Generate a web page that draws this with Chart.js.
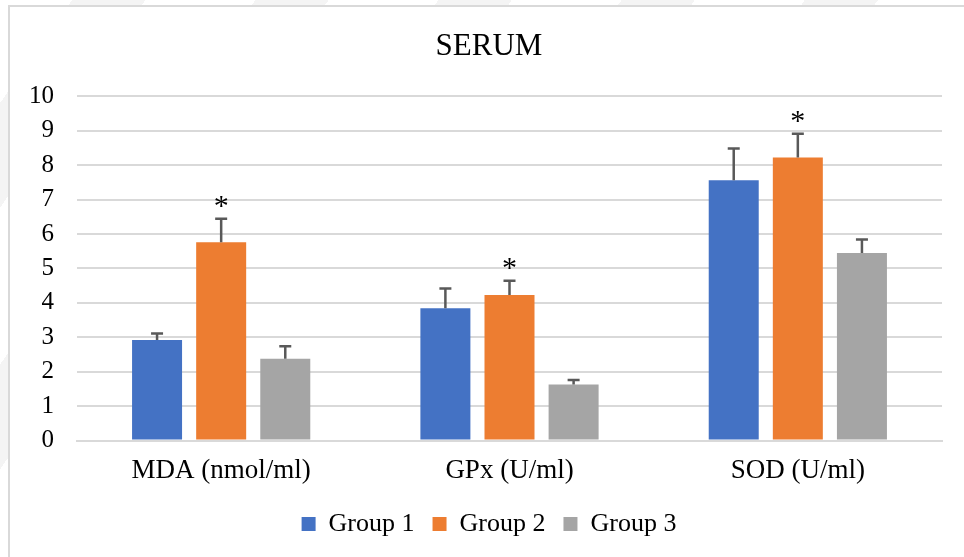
<!DOCTYPE html>
<html>
<head>
<meta charset="utf-8">
<script src="https://cdn.jsdelivr.net/npm/chart.js@4.4.1/dist/chart.umd.min.js"></script>
<style>
  html, body { margin: 0; padding: 0; }
  body {
    width: 964px; height: 557px; overflow: hidden; position: relative;
    background: repeating-linear-gradient(-55deg, #ffffff 0px, #ffffff 90px, #f4f4f4 90px, #f4f4f4 150px);
  }
  #frame {
    position: absolute; left: 8px; top: 5px; width: 1000px; height: 600px;
    border: 2px solid #d9d9d9; background: #fff;
  }
  #wrap { position: absolute; left: 0; top: 0; width: 972px; height: 557px; }
</style>
</head>
<body>
<div id="frame"></div>
<div id="wrap"><canvas id="serumChart"></canvas></div>
<script>
// ---- data ----
const categories = ['MDA (nmol/ml)', 'GPx (U/ml)', 'SOD (U/ml)']
const groupNames = ['Group 1', 'Group 2', 'Group 3']
const group1 = [2.92, 3.84, 7.56]
const group2 = [5.76, 4.23, 8.22]
const group3 = [2.38, 1.63, 5.45]
const err1 = [0.19, 0.58, 0.92]
const err2 = [0.68, 0.41, 0.69]
const err3 = [0.36, 0.13, 0.39]
const marks2 = ['*', '*', '*']   // significance marks over Group 2
const yTicks = [0, 1, 2, 3, 4, 5, 6, 7, 8, 9, 10]

const colors = ['#4472C4', '#ED7D31', '#A5A5A5']
const serif = "'Liberation Serif', 'Times New Roman', serif"

// error bars (upper only) + asterisks
const errorBars = {
  id: 'errorBars',
  afterDatasetsDraw(chart) {
    const ctx = chart.ctx
    const y = chart.scales.y
    chart.data.datasets.forEach((ds, i) => {
      const meta = chart.getDatasetMeta(i)
      meta.data.forEach((bar, j) => {
        const top = y.getPixelForValue(ds.data[j] + ds.errors[j])
        ctx.save()
        ctx.strokeStyle = '#595959'
        ctx.lineWidth = 2.5
        ctx.beginPath()
        ctx.moveTo(bar.x, bar.y)
        ctx.lineTo(bar.x, top)
        ctx.moveTo(bar.x - 6, top)
        ctx.lineTo(bar.x + 6, top)
        ctx.stroke()
        if (ds.marks && ds.marks[j]) {
          ctx.fillStyle = '#000'
          ctx.font = '30px ' + serif
          ctx.textAlign = 'center'
          ctx.textBaseline = 'middle'
          ctx.fillText(ds.marks[j], bar.x, top - 12)
        }
        ctx.restore()
      })
    })
  }
}

new Chart(document.getElementById('serumChart'), {
  type: 'bar',
  data: {
    labels: categories,
    datasets: [
      { label: groupNames[0], data: group1, errors: err1, backgroundColor: colors[0] },
      { label: groupNames[1], data: group2, errors: err2, marks: marks2, backgroundColor: colors[1] },
      { label: groupNames[2], data: group3, errors: err3, backgroundColor: colors[2] }
    ]
  },
  options: {
    responsive: true,
    maintainAspectRatio: false,
    animation: false,
    categoryPercentage: 0.667,
    barPercentage: 0.78,
    layout: { padding: { left: 6, right: 0, top: 14, bottom: 10 } },
    plugins: {
      title: {
        display: true,
        text: 'SERUM',
        color: '#000',
        font: { family: serif, size: 31, weight: 'normal' },
        padding: { top: 14, bottom: 31 }
      },
      legend: {
        position: 'bottom',
        labels: {
          color: '#000',
          font: { family: serif, size: 26 },
          boxWidth: 14,
          boxHeight: 14,
          padding: 18
        }
      },
      tooltip: { enabled: false }
    },
    scales: {
      x: {
        grid: { display: false },
        border: { color: '#d9d9d9', width: 2 },
        ticks: { color: '#000', font: { family: serif, size: 27 }, padding: 6 }
      },
      y: {
        min: 0,
        max: 10,
        afterBuildTicks: axis => { axis.ticks = yTicks.map(v => ({ value: v })) },
        grid: { color: '#d9d9d9', lineWidth: 2, drawTicks: false },
        border: { display: false },
        ticks: { color: '#000', font: { family: serif, size: 25 }, padding: 23 }
      },
      // empty right-hand gutter so the plot ends where the original does
      yRight: {
        position: 'right',
        grid: { display: false },
        border: { display: false },
        ticks: { display: false },
        afterFit: axis => { axis.width = 30 }
      }
    }
  },
  plugins: [errorBars]
})
</script>
</body>
</html>
